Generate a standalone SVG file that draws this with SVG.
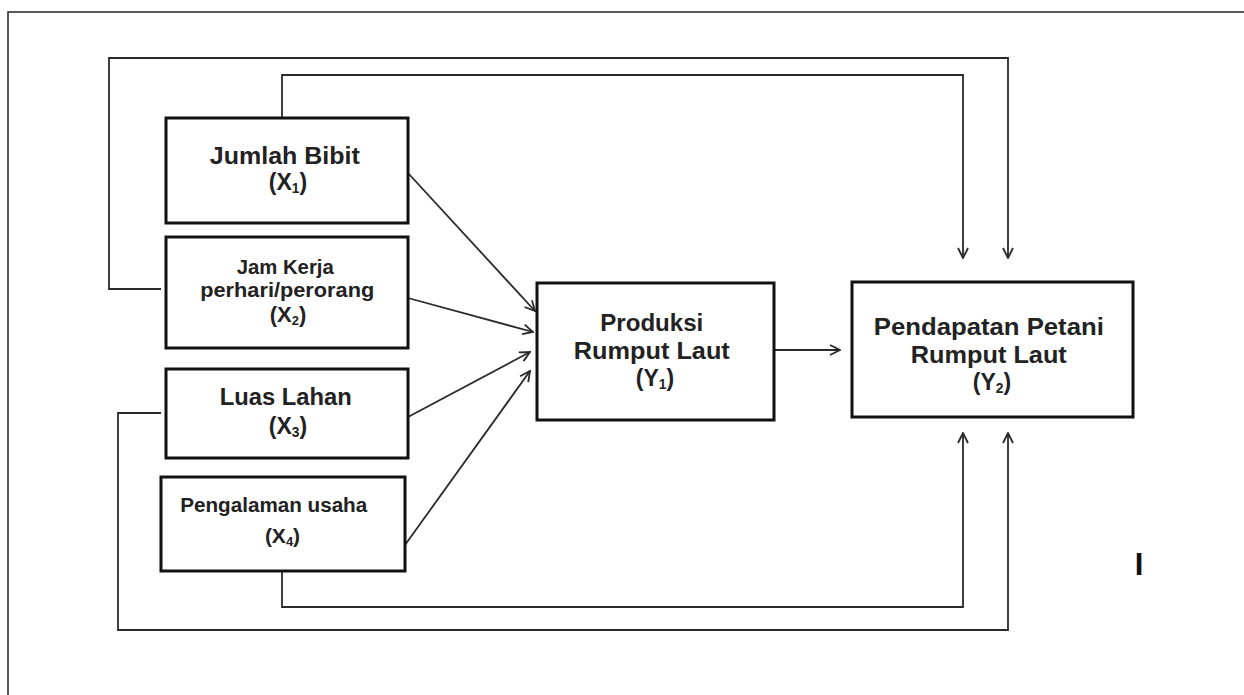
<svg xmlns="http://www.w3.org/2000/svg" width="1244" height="695" viewBox="0 0 1244 695">
  <style>
    .box { fill: #fff; stroke: #111; stroke-width: 3; }
    .wire { fill: none; stroke: #2a2a2a; stroke-width: 1.8; }
    .lbl { font-family: "Liberation Sans", Arial, sans-serif; font-weight: bold; fill: #222; text-anchor: middle; }
    .big { font-size: 23px; }
    .mid { font-size: 20px; }
    .sub { font-size: 60%; }
  </style>
  <defs>
    <marker id="open" viewBox="0 0 12 12" refX="11" refY="6" markerWidth="12" markerHeight="12" markerUnits="userSpaceOnUse" orient="auto">
      <path d="M1,1 L11,6 L1,11" fill="none" stroke="#2a2a2a" stroke-width="1.8"/>
    </marker>
  </defs>
  <rect x="0" y="0" width="1244" height="695" fill="#fff"/>
  <!-- page frame (top and left edges) -->
  <path d="M8,695 L8,12 L1244,12" fill="none" stroke="#222" stroke-width="1.5"/>

  <g id="connectors">
    <path class="wire" d="M161,289 L109,289 L109,58 L1008,58 L1008,258" marker-end="url(#open)"/>
    <path class="wire" d="M282,118 L282,75 L963,75 L963,258" marker-end="url(#open)"/>
    <path class="wire" d="M161,413 L118,413 L118,630 L1008,630 L1008,433" marker-end="url(#open)"/>
    <path class="wire" d="M282,571 L282,607 L963,607 L963,433" marker-end="url(#open)"/>
    <path class="wire" d="M408,173 L535,311" marker-end="url(#open)"/>
    <path class="wire" d="M408,298 L533,332" marker-end="url(#open)"/>
    <path class="wire" d="M408,417 L530,352" marker-end="url(#open)"/>
    <path class="wire" d="M405,545 L530,371" marker-end="url(#open)"/>
    <path class="wire" d="M774,350 L840,350" marker-end="url(#open)"/>
  </g>

  <g id="x1">
    <rect class="box" x="166" y="118" width="242" height="105"/>
    <text class="lbl big">
      <tspan x="288" y="164" textLength="150" lengthAdjust="spacingAndGlyphs">Jumlah Bibit</tspan>
      <tspan x="288" y="190">(X</tspan><tspan class="sub" dy="3">1</tspan><tspan dy="-3">)</tspan>
    </text>
  </g>

  <g id="x2">
    <rect class="box" x="166" y="237" width="242" height="111"/>
    <text class="lbl mid">
      <tspan x="288" y="274" textLength="97" lengthAdjust="spacingAndGlyphs">Jam Kerja</tspan>
      <tspan x="290" y="297" textLength="174" lengthAdjust="spacingAndGlyphs">perhari/perorang</tspan>
      <tspan x="288" y="322" font-size="22">(X</tspan><tspan font-size="13" dy="3">2</tspan><tspan font-size="22" dy="-3">)</tspan>
    </text>
  </g>

  <g id="x3">
    <rect class="box" x="166" y="369" width="242" height="89"/>
    <text class="lbl big">
      <tspan x="289" y="405" textLength="132" lengthAdjust="spacingAndGlyphs">Luas Lahan</tspan>
      <tspan x="288" y="434">(X</tspan><tspan class="sub" dy="3">3</tspan><tspan dy="-3">)</tspan>
    </text>
  </g>

  <g id="x4">
    <rect class="box" x="161" y="477" width="244" height="94"/>
    <text class="lbl mid">
      <tspan x="276.5" y="512" textLength="187" lengthAdjust="spacingAndGlyphs">Pengalaman usaha</tspan>
      <tspan x="282.5" y="543" font-size="21">(X</tspan><tspan font-size="13" dy="3">4</tspan><tspan font-size="21" dy="-3">)</tspan>
    </text>
  </g>

  <g id="y1">
    <rect class="box" x="537" y="283" width="237" height="137"/>
    <text class="lbl big">
      <tspan x="655" y="331" textLength="103" lengthAdjust="spacingAndGlyphs">Produksi</tspan>
      <tspan x="655" y="359" textLength="156" lengthAdjust="spacingAndGlyphs">Rumput Laut</tspan>
      <tspan x="655" y="386">(Y</tspan><tspan class="sub" dy="3">1</tspan><tspan dy="-3">)</tspan>
    </text>
  </g>

  <g id="y2">
    <rect class="box" x="852" y="282" width="281" height="135"/>
    <text class="lbl big">
      <tspan x="992" y="335" textLength="230" lengthAdjust="spacingAndGlyphs">Pendapatan Petani</tspan>
      <tspan x="992" y="363" textLength="156" lengthAdjust="spacingAndGlyphs">Rumput Laut</tspan>
      <tspan x="992" y="390">(Y</tspan><tspan class="sub" dy="3">2</tspan><tspan dy="-3">)</tspan>
    </text>
  </g>

  <text x="1139" y="575" font-family="Liberation Sans, Arial, sans-serif" font-size="31" font-weight="bold" fill="#111" text-anchor="middle">I</text>
</svg>
